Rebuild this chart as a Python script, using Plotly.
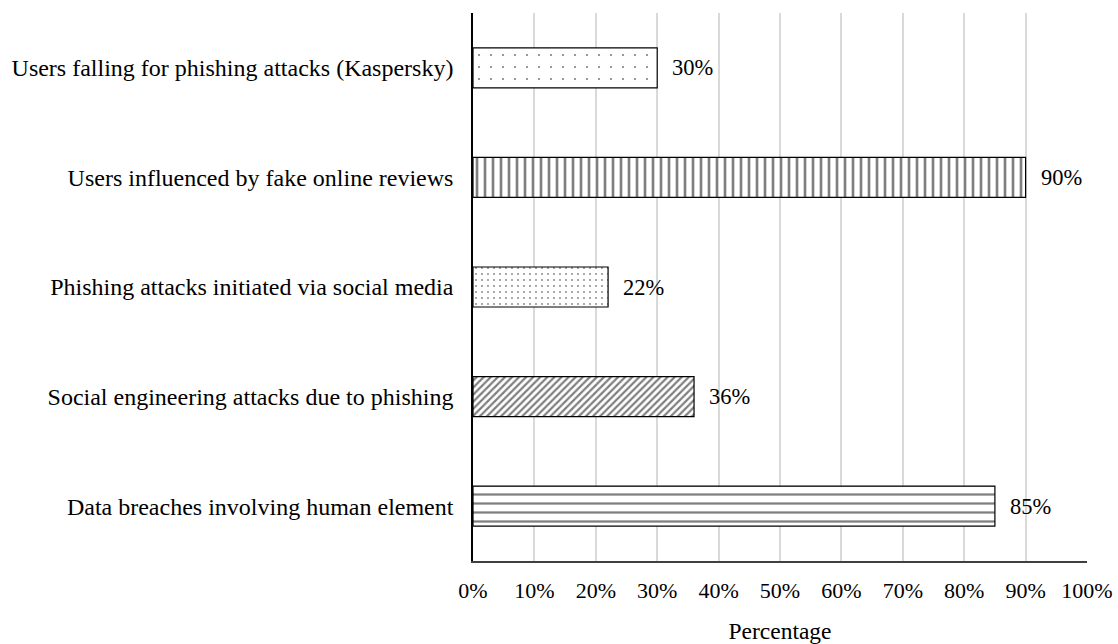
import plotly.graph_objects as go

categories = [
    "Users falling for phishing attacks (Kaspersky)",
    "Users influenced by fake online reviews",
    "Phishing attacks initiated via social media",
    "Social engineering attacks due to phishing",
    "Data breaches involving human element",
]
values = [30, 90, 22, 36, 85]
pattern_shapes = [".", "|", ".", "/", "-"]
pattern_sizes = [12, 8, 6, 5, 9]
pattern_solidity = [0.025, 0.33, 0.07, 0.45, 0.25]
x_ticks = [0, 10, 20, 30, 40, 50, 60, 70, 80, 90, 100]
x_tick_labels = ["0%", "10%", "20%", "30%", "40%", "50%", "60%", "70%", "80%", "90%", "100%"]

FONT = "Liberation Serif"

fig = go.Figure()
for cat, val, shp, sz, sol in zip(categories, values, pattern_shapes, pattern_sizes, pattern_solidity):
    fig.add_trace(go.Bar(
        x=[val], y=[cat], orientation="h",
        width=0.365,
        marker=dict(
            color="white",
            line=dict(color="black", width=1.2),
            pattern=dict(shape=shp, size=sz, solidity=sol, fgcolor="black",
                         bgcolor="white", fillmode="overlay"),
        ),
        showlegend=False,
        hoverinfo="skip",
    ))
    fig.add_annotation(
        x=val, y=cat, xref="x", yref="y", text=f"{val}%",
        showarrow=False, xanchor="left", xshift=13,
        font=dict(family=FONT, size=22.5, color="black"),
    )

fig.update_layout(
    width=1118, height=644,
    margin=dict(l=473, r=31, t=13, b=83, autoexpand=False),
    paper_bgcolor="white", plot_bgcolor="white",
    font=dict(family=FONT, color="black"),
    barmode="overlay",
)
fig.update_xaxes(
    range=[0, 100], tickvals=x_ticks, ticktext=x_tick_labels,
    showgrid=True, gridcolor="#d9d9d9", gridwidth=2,
    showline=True, linecolor="#404040", linewidth=1.5,
    zeroline=False, ticks="", ticklabelstandoff=9, automargin=False,
    tickfont=dict(family=FONT, size=22, color="black"),
    title=dict(text="Percentage", font=dict(family=FONT, size=23.5, color="black"), standoff=36),
)
fig.update_yaxes(
    categoryorder="array", categoryarray=categories, autorange="reversed",
    showline=True, linecolor="black", linewidth=1.5, automargin=False,
    showgrid=False, ticks="", ticklabelstandoff=13,
    tickfont=dict(family=FONT, size=24, color="black"),
)

fig.write_html("out.html")
